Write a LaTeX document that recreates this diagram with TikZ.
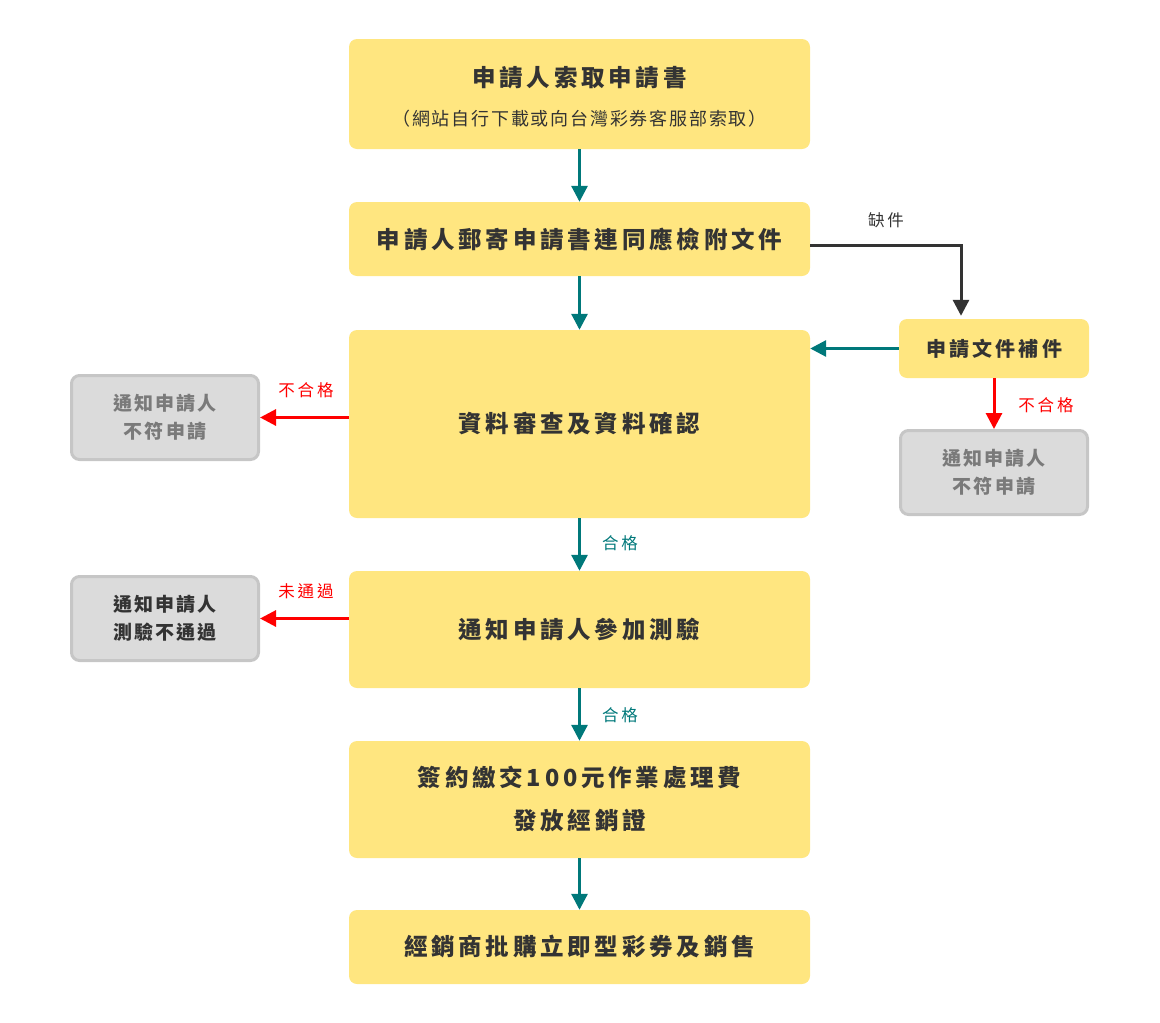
\documentclass[tikz,border=0pt]{standalone}
\usepackage{fontspec}
\usetikzlibrary{arrows.meta}
\setmainfont{Noto Sans CJK TC}
\newfontfamily\ftitle[LetterSpace=16]{Noto Sans CJK TC}
\newfontfamily\fsub[LetterSpace=10]{Noto Sans CJK TC}
\newfontfamily\fgray[LetterSpace=11]{Noto Sans CJK TC}
\newfontfamily\flab[LetterSpace=18]{Noto Sans CJK TC}
\definecolor{boxY}{HTML}{FFE680}
\definecolor{boxG}{HTML}{DBDBDB}
\definecolor{boxGb}{HTML}{C6C6C6}
\definecolor{txt}{HTML}{333333}
\definecolor{gtxt}{HTML}{7A7A7A}
\definecolor{teal}{HTML}{00787A}
\definecolor{redA}{HTML}{FF0000}
\tikzset{
  ybox/.style={fill=boxY, rounded corners=8pt, minimum width=461pt, inner sep=0pt,
    text=txt, align=center, font=\ftitle\bfseries\fontsize{23.5}{43}\selectfont},
  gbox/.style={fill=boxG, draw=boxGb, line width=3pt, rounded corners=8pt,
    minimum width=187pt, minimum height=84pt, inner sep=0pt, align=center,
    font=\fgray\bfseries\fontsize{19}{28}\selectfont},
  arr/.style={line width=3pt, -{Triangle[length=16pt,width=16pt]}},
  lab/.style={font=\flab\fontsize{16.5}{18}\selectfont, inner sep=0pt}
}
\begin{document}
\begin{tikzpicture}[x=1pt,y=-1pt]
\useasboundingbox (0,0) rectangle (1160,1023);
% main boxes
\node[ybox, minimum height=110pt] (b1) at (579.5,94) {};
\node[text=txt, font=\ftitle\bfseries\fontsize{23.5}{26}\selectfont, inner sep=0pt] (t1) at (579.5,78) {申請人索取申請書};
\node[text=txt, font=\fsub\fontsize{18}{20}\selectfont, inner sep=0pt] (t1s) at (579.5,119) {（網站自行下載或向台灣彩券客服部索取）};
\node[ybox, minimum height=74pt] (b2) at (579.5,239) {申請人郵寄申請書連同應檢附文件};
\node[ybox, minimum height=188pt] (b3) at (579.5,424) {資料審查及資料確認};
\node[ybox, minimum height=117pt] (b4) at (579.5,629.5) {通知申請人參加測驗};
\node[ybox, minimum height=117pt] (b5) at (579.5,799.5) {簽約繳交100元作業處理費\\發放經銷證};
\node[ybox, minimum height=74pt] (b6) at (579.5,947) {經銷商批購立即型彩券及銷售};
\node[ybox, minimum width=190pt, minimum height=59pt, font=\ftitle\bfseries\fontsize{20}{22}\selectfont] (fix) at (994,348.5) {申請文件補件};
% gray boxes
\node[gbox, text=gtxt] (g1) at (165,417.5) {通知申請人\\不符申請};
\node[gbox, text=gtxt] (g3) at (994,472.5) {通知申請人\\不符申請};
\node[gbox, text=txt] (g2) at (165,618.5) {通知申請人\\測驗不通過};
% connectors
\draw[arr, teal] (b1) -- (b2);
\draw[arr, teal] (b2) -- (b3);
\draw[arr, teal] (b3) -- (b4);
\draw[arr, teal] (b4) -- (b5);
\draw[arr, teal] (b5) -- (b6);
\coordinate (c1) at ([yshift=-6pt]b2.east);
\coordinate (c2) at ([xshift=-33pt]fix.north);
\draw[arr, txt, shorten >=3pt] (c1) -| (c2);
\draw[arr, teal] (fix.west) -- (fix.west -| b3.east);
\draw[arr, redA] (fix.south) -- (g3.north);
\draw[arr, redA] (b3.west |- g1.east) -- (g1.east);
\draw[arr, redA] (b4.west |- g2.east) -- (g2.east);
% labels
\node[lab, text=txt] (l1) at (886,220) {缺件};
\node[lab, text=redA] (l2) at (306,390) {不合格};
\node[lab, text=redA] (l3) at (1046,405) {不合格};
\node[lab, text=redA] (l4) at (306,591) {未通過};
\node[lab, text=teal] (l5) at (620,543) {合格};
\node[lab, text=teal] (l6) at (620,715) {合格};
\end{tikzpicture}
\end{document}
